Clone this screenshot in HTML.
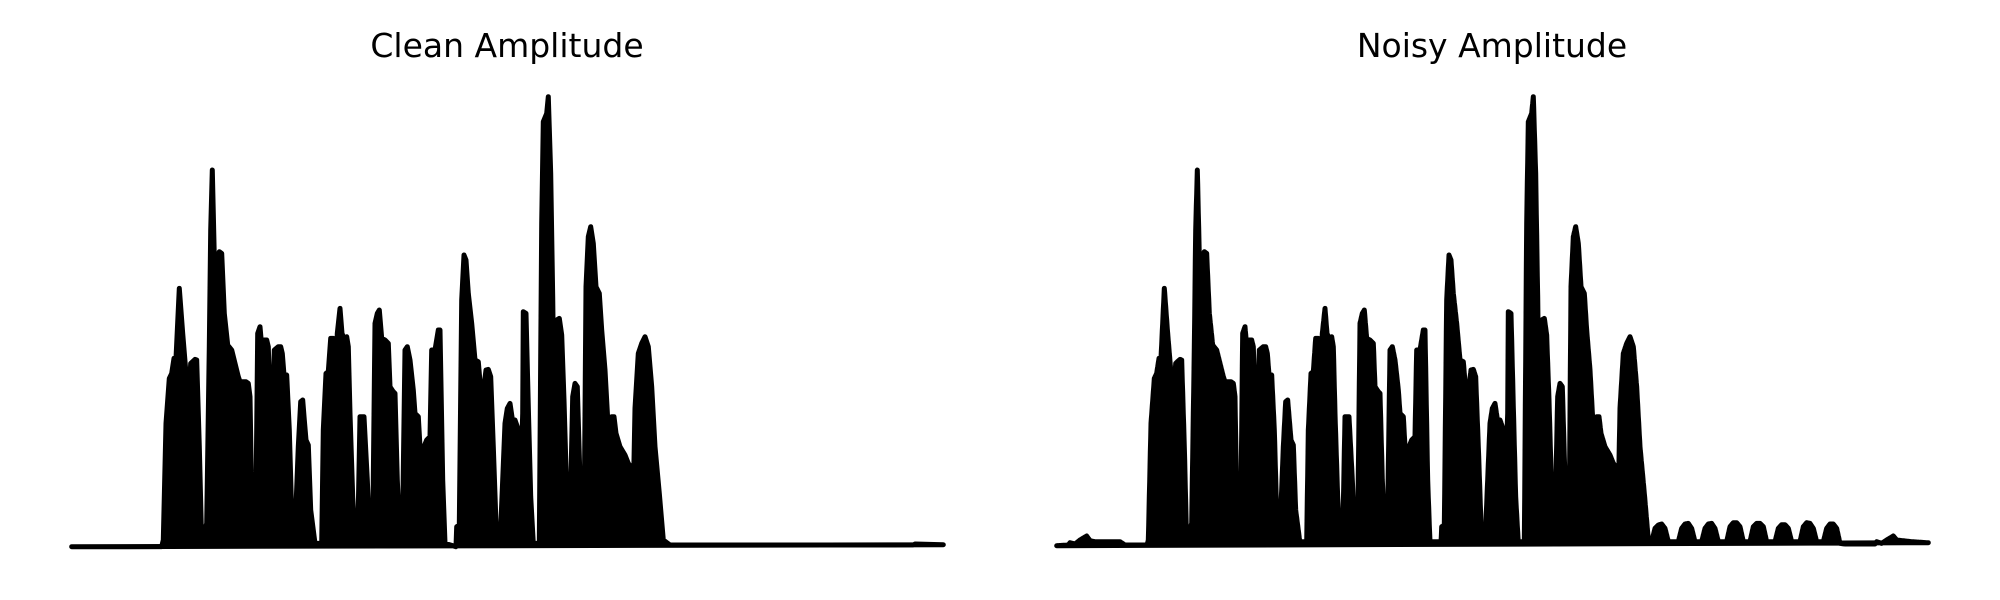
<!DOCTYPE html>
<html><head><meta charset="utf-8"><style>
html,body{margin:0;padding:0;background:#fff;width:2000px;height:600px;overflow:hidden}
svg{display:block}
text{font-family:"DejaVu Sans","Liberation Sans",sans-serif;font-size:33px;fill:#000}
</style></head><body>
<svg id="chart" width="2000" height="600" viewBox="0 0 2000 600">
<text x="507" y="57" text-anchor="middle">Clean Amplitude</text>
<text x="1492" y="57" text-anchor="middle">Noisy Amplitude</text>
<g id="left"></g>
<g id="right"></g>
</svg>
<script>
// clean envelope keypoints: frame index and amplitude (arbitrary units)
const cleanFrames=[35,305,310,318,328,335,342,348,358,368,378,385,392,405,410,418,425,
432,440,448,452,457,463,470,478,485,493,503,515,525,535,540,550,558,565,570,575,582,
588,593,600,606,612,620,625,630,637,643,655,662,667,672,680,688,695,702,
708,715,722,728,733,738,745,752,765,
785,790,798,805,812,820,825,832,840,846,852,860,865,870,878,885,
893,900,912,922,930,
938,945,952,958,965,975,985,990,1000,1005,1012,1020,
1028,1035,1042,1050,1060,1065,1075,1080,1090,1100,1110,1115,1125,1135,1140,1148,1155,
1188,1190,1198,1205,1212,1218,1225,1235,1245,1255,1262,1270,1278,1285,1292,1300,1310,1320,
1328,1335,1342,1350,1358,1365,1372,1375,1385,1388,1390,1398,1405,1412,1420,
1438,1445,1450,1460,1465,1472,1478,1483,1490,1498,1505,1512,1520,1530,1538,1545,1552,1560,1565,
1572,1578,1585,1592,1600,1608,1618,1625,1635,1645,1655,1662,1668,1680,1695,1705,1713,1720,1725,1735,1745,1755,1765,1775,1785,1798,1810,1830,
2560,2565,2650];
const cleanAmps=[0,0,20,370,505,520,565,565,775,640,520,415,550,562,560,300,10,
40,70,600,950,1130,870,860,885,880,700,605,590,550,510,495,495,495,490,450,150,10,
150,640,660,590,620,620,600,420,400,590,600,600,580,515,515,350,100,10,
120,300,435,440,380,320,305,110,10,
10,350,520,525,625,625,450,640,715,640,625,630,600,400,150,10,
20,390,390,200,10,
40,670,700,710,625,620,610,480,465,460,200,10,
100,590,600,560,470,400,390,300,295,320,330,590,590,650,650,200,10,
0,60,65,740,875,860,760,670,560,555,470,465,530,532,510,300,10,5,
200,370,415,430,375,380,360,320,300,400,705,700,420,150,10,
10,970,1275,1300,1350,1120,750,370,680,685,635,440,160,70,450,490,480,200,10,
10,780,930,960,910,780,760,650,530,350,390,390,340,300,275,250,240,150,415,580,610,630,600,480,300,160,20,5,
5,8,6];
// additive noise floor keypoints for the noisy signal
const noiseFrames=[35,70,75,90,105,125,135,150,225,240,305,310,1810,1815,
1820,1830,1840,1850,1860,1870,1900,1910,1920,1930,1940,1950,1970,1980,1990,2000,2010,2020,
2045,2055,2065,2075,2085,2095,2115,2125,2135,2145,2155,2165,2190,2200,2210,2220,2230,2240,
2265,2275,2285,2295,2305,2315,2335,2345,2355,2365,2375,2385,2400,2490,2495,2510,2525,2545,2555,2600,2645];
const noiseAmps=[3,5,12,8,20,32,18,15,15,5,5,15,15,10,
15,55,65,68,55,15,15,55,68,70,55,15,15,55,68,70,55,15,
15,60,72,72,60,15,15,60,70,70,60,15,15,55,66,66,55,15,
15,60,72,70,55,15,15,55,68,68,55,10,8,8,15,10,20,32,20,15,12];

function interp(fr,am,f){
  if(f<=fr[0])return am[0];
  for(let i=1;i<fr.length;i++){if(f<=fr[i]){const t=(f-fr[i-1])/(fr[i]-fr[i-1]);return am[i-1]+t*(am[i]-am[i-1]);}}
  return am[am.length-1];
}
const yScale=a=>546.7-a/3;
const xLeft=f=>60+f/3;
const xRight=f=>1045+f/3;
const NS='http://www.w3.org/2000/svg';
function draw(gid,pts,name){
  const g=document.getElementById(gid);
  const d='M'+pts.map(p=>p[0].toFixed(1)+','+p[1].toFixed(1)).join('L');
  const area=document.createElementNS(NS,'path');
  area.setAttribute('d',d+'Z');
  area.setAttribute('fill','#000');
  area.setAttribute('stroke','#000');
  area.setAttribute('stroke-width','5');
  area.setAttribute('stroke-linejoin','round');
  area.setAttribute('stroke-linecap','round');
  
  
  g.appendChild(area);
}
const cp=cleanFrames.map((f,i)=>[xLeft(f),yScale(cleanAmps[i])]);
draw('left',cp,'clean-amplitude-series');
const np=[];
for(let f=35;f<=2650;f+=1){
  const a=Math.max(interp(cleanFrames,cleanAmps,f),interp(noiseFrames,noiseAmps,f));
  np.push([xRight(f),yScale(a)]);
}
draw('right',np,'noisy-amplitude-series');
</script>
</body></html>
